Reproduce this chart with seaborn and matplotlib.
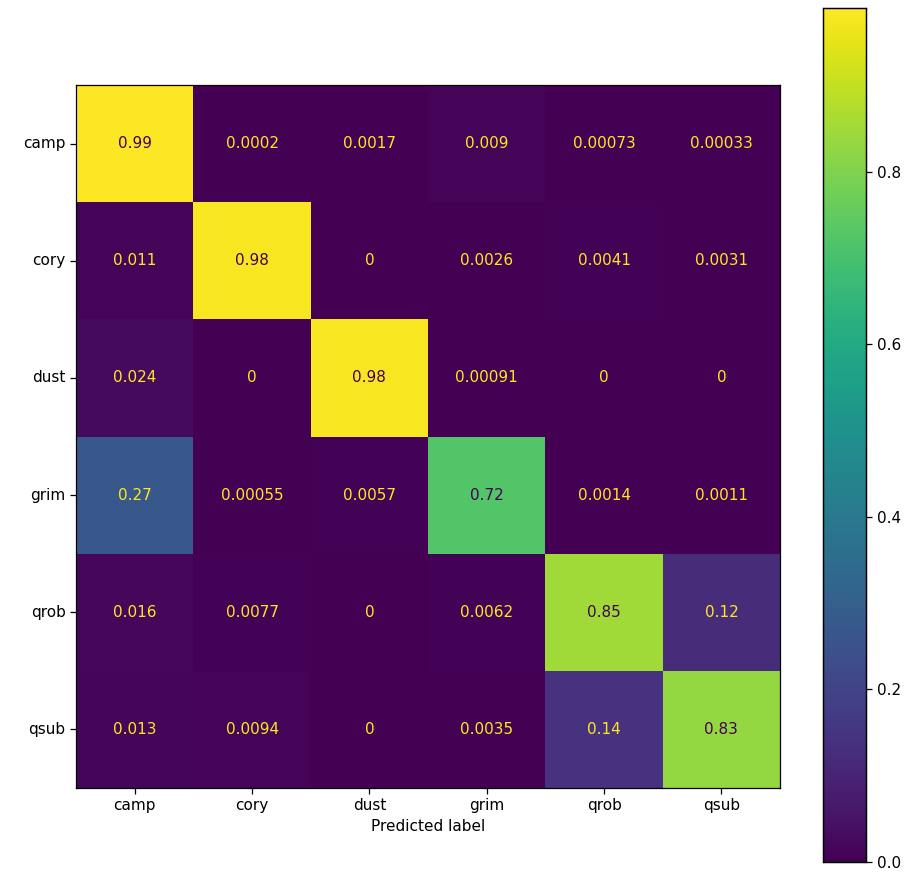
import numpy as np
import pandas as pd
import matplotlib
matplotlib.use('Agg')
import matplotlib.pyplot as plt
import seaborn as sns

# class names (true rows / predicted columns)
labels = ['camp', 'cory', 'dust', 'grim', 'qrob', 'qsub']

# normalized confusion matrix rows
camp = [0.99, 0.0002, 0.0017, 0.009, 0.00073, 0.00033]
cory = [0.011, 0.98, 0, 0.0026, 0.0041, 0.0031]
dust = [0.024, 0, 0.98, 0.00091, 0, 0]
grim = [0.27, 0.00055, 0.0057, 0.72, 0.0014, 0.0011]
qrob = [0.016, 0.0077, 0, 0.0062, 0.85, 0.12]
qsub = [0.013, 0.0094, 0, 0.0035, 0.14, 0.83]

cm = pd.DataFrame([camp, cory, dust, grim, qrob, qsub], index=labels, columns=labels)

fig = plt.figure(figsize=(9.06, 8.72), dpi=100)
ax = fig.add_axes([0.084, 0.0963, 0.777, 0.8062])
cax = fig.add_axes([0.908, 0.0115, 0.048, 0.9793])

cmap = plt.get_cmap('viridis')
vmin, vmax = cm.values.min(), cm.values.max()
sns.heatmap(cm, ax=ax, cbar_ax=cax, cmap=cmap, vmin=vmin, vmax=vmax,
            annot=True, fmt='.2g', annot_kws={'fontsize': 11},
            square=False)

# sklearn style text colours: dark text on bright cells, yellow on dark ones
thresh = (vmax + vmin) / 2.0
flat = cm.values.flatten()
for txt, v in zip(ax.texts, flat):
    txt.set_color(cmap(0.0) if v >= thresh else cmap(1.0))

for side in ['top', 'right', 'bottom', 'left']:
    ax.spines[side].set_visible(True)
    ax.spines[side].set_linewidth(0.9)
    ax.spines[side].set_color('black')

ax.tick_params(axis='both', length=4, width=0.9, labelsize=11)
ax.set_yticklabels(labels, rotation=0)
ax.set_xticklabels(labels, rotation=0)
ax.set_xlabel('Predicted label', fontsize=11)
ax.set_ylabel('')

cax.tick_params(labelsize=11, length=4, width=0.9)
cax.set_yticks([0.0, 0.2, 0.4, 0.6, 0.8])
for side in cax.spines.values():
    side.set_visible(True)
    side.set_linewidth(0.9)

fig.savefig('out.png', dpi=100)
